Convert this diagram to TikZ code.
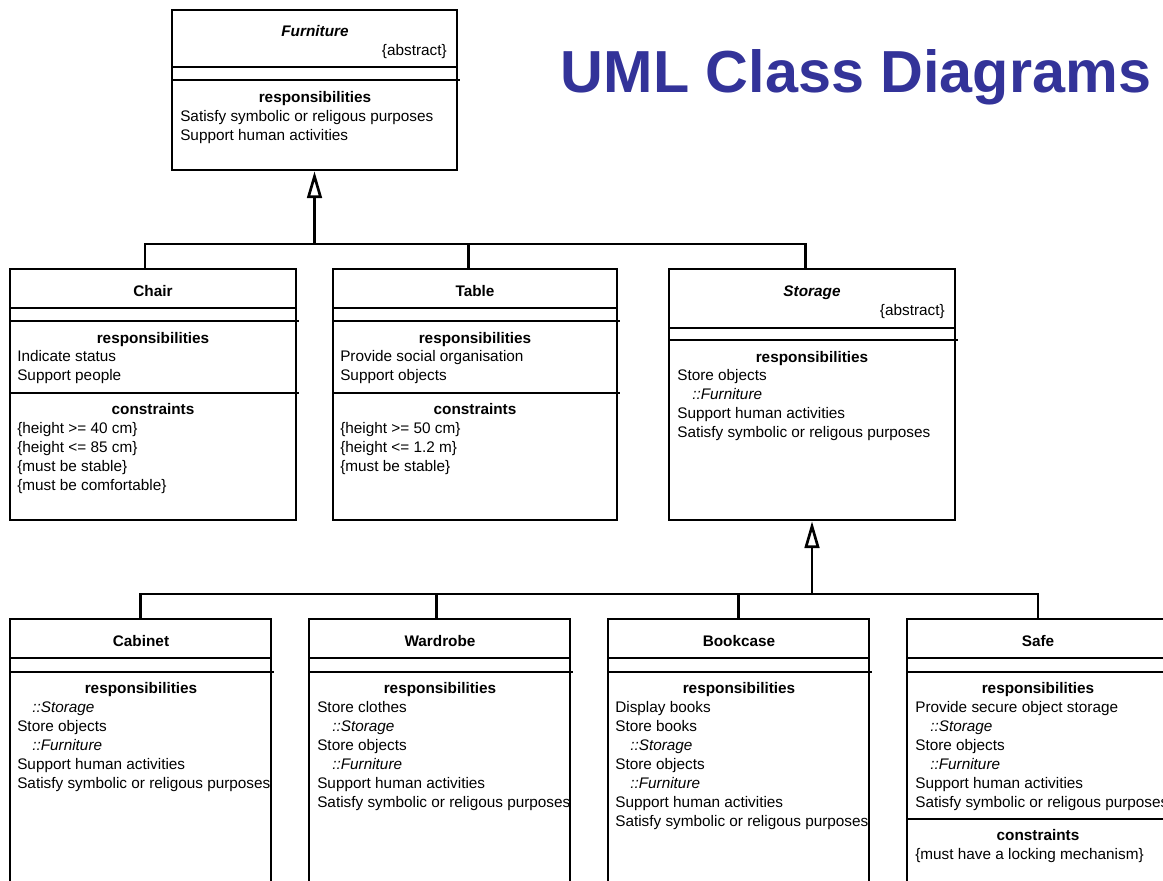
\documentclass[tikz,border=0pt]{standalone}
\usepackage{fontspec}
\setmainfont{Liberation Sans}
\usetikzlibrary{arrows.meta,fit}

\definecolor{umlblue}{HTML}{333399}

\newcommand{\umlsize}{\fontsize{11.5}{14}\selectfont}
% inherited responsibility, indented
\newcommand{\inh}[1]{\hspace*{11.25pt}\textit{#1}}
% compartment lines: prefix, x, first y, {line, line, ...}
\newcommand{\complines}[4]{%
  \foreach \txt [count=\k] in {#4}
    \node[item] (#1-\k) at (#2,{#3+18.9*(\k-1)}) {\txt};}

\begin{document}
\begin{tikzpicture}[x=0.75pt,y=-0.75pt,font=\umlsize,
    box/.style={draw, line width=2pt, inner sep=0pt},
    sep/.style={line width=2pt},
    item/.style={anchor=west, inner sep=0pt, text height=7.5pt, text depth=2pt, yshift=-1.5pt},
    head/.style={item, anchor=center, font=\umlsize\bfseries},
    link/.style={line width=2pt},
    gen/.style={link, -{Triangle[open, length=20pt, width=11pt]}}]

    \useasboundingbox (0,0) rectangle (1163,881);
    \clip (0,0) rectangle (1163,881);

    \node[anchor=base, text=umlblue, font=\fontsize{44.5}{50}\selectfont\bfseries] (title) at (856,93) {UML Class Diagrams};

    %Furniture
    \node[box, fit={(172,10) (457,170)}] (furniture) {};
    \node[head, font=\umlsize\bfseries\itshape] (furniture-name) at (315,31) {Furniture};
    \node[item, anchor=east] (furniture-abs) at (447,50) {\{abstract\}};
    \draw[sep] (172,67) -- (457,67);
    \draw[sep] (172,80) -- (460,80);
    \node[head] (furniture-res) at (315,97) {responsibilities};
    \complines{furniture-r}{180}{116}{Satisfy symbolic or religous purposes, Support human activities}

    %Chair
    \node[box, fit={(10,269) (296,520)}] (chair) {};
    \node[head] (chair-name) at (153,291) {Chair};
    \draw[sep] (10,308) -- (296,308);
    \draw[sep] (10,321) -- (299,321);
    \node[head] (chair-res) at (153,338) {responsibilities};
    \complines{chair-r}{17}{356}{Indicate status, Support people}
    \draw[sep] (10,393) -- (299,393);
    \node[head] (chair-con) at (153,409) {constraints};
    \complines{chair-c}{17}{428}{\{height >= 40 cm\}, \{height <= 85 cm\}, \{must be stable\}, \{must be comfortable\}}

    %Table
    \node[box, fit={(333,269) (617,520)}] (table) {};
    \node[head] (table-name) at (475,291) {Table};
    \draw[sep] (333,308) -- (617,308);
    \draw[sep] (333,321) -- (620,321);
    \node[head] (table-res) at (475,338) {responsibilities};
    \complines{table-r}{340}{356}{Provide social organisation, Support objects}
    \draw[sep] (333,393) -- (620,393);
    \node[head] (table-con) at (475,409) {constraints};
    \complines{table-c}{340}{428}{\{height >= 50 cm\}, \{height <= 1.2 m\}, \{must be stable\}}

    %Storage
    \node[box, fit={(669,269) (955,520)}] (storage) {};
    \node[head, font=\umlsize\bfseries\itshape] (storage-name) at (812,291) {Storage};
    \node[item, anchor=east] (storage-abs) at (945,310) {\{abstract\}};
    \draw[sep] (669,328) -- (955,328);
    \draw[sep] (669,340) -- (958,340);
    \node[head] (storage-res) at (812,357) {responsibilities};
    \complines{storage-r}{677}{375}{Store objects, {\inh{::Furniture}}, Support human activities, Satisfy symbolic or religous purposes}

    %Cabinet
    \node[box, fit={(10,619) (271,900)}] (cabinet) {};
    \node[head] (cabinet-name) at (141,641) {Cabinet};
    \draw[sep] (10,658) -- (271,658);
    \draw[sep] (10,672) -- (274,672);
    \node[head] (cabinet-res) at (141,688) {responsibilities};
    \complines{cabinet-r}{17}{707}{{\inh{::Storage}}, Store objects, {\inh{::Furniture}}, Support human activities, Satisfy symbolic or religous purposes}

    %Wardrobe
    \node[box, fit={(309,619) (570,900)}] (wardrobe) {};
    \node[head] (wardrobe-name) at (440,641) {Wardrobe};
    \draw[sep] (309,658) -- (570,658);
    \draw[sep] (309,672) -- (573,672);
    \node[head] (wardrobe-res) at (440,688) {responsibilities};
    \complines{wardrobe-r}{317}{707}{Store clothes, {\inh{::Storage}}, Store objects, {\inh{::Furniture}}, Support human activities, Satisfy symbolic or religous purposes}

    %Bookcase
    \node[box, fit={(608,619) (869,900)}] (bookcase) {};
    \node[head] (bookcase-name) at (739,641) {Bookcase};
    \draw[sep] (608,658) -- (869,658);
    \draw[sep] (608,672) -- (872,672);
    \node[head] (bookcase-res) at (739,688) {responsibilities};
    \complines{bookcase-r}{615}{707}{Display books, Store books, {\inh{::Storage}}, Store objects, {\inh{::Furniture}}, Support human activities, Satisfy symbolic or religous purposes}

    %Safe
    \node[box, fit={(907,619) (1169,900)}] (safe) {};
    \node[head] (safe-name) at (1038,641) {Safe};
    \draw[sep] (907,658) -- (1169,658);
    \draw[sep] (907,672) -- (1169,672);
    \node[head] (safe-res) at (1038,688) {responsibilities};
    \complines{safe-r}{915}{707}{Provide secure object storage, {\inh{::Storage}}, Store objects, {\inh{::Furniture}}, Support human activities, Satisfy symbolic or religous purposes}
    \draw[sep] (907,819) -- (1169,819);
    \node[head] (safe-con) at (1038,835) {constraints};
    \complines{safe-c}{915}{854}{\{must have a locking mechanism\}}

    %generalisations
    \coordinate (bus-top) at (furniture.south |- 0,244);
    \draw[link] ([xshift=-6pt]chair.north) |- (bus-top);
    \draw[link] ([xshift=-5pt]table.north) |- (bus-top);
    \draw[link] ([xshift=-5pt]storage.north) |- (bus-top);
    \draw[gen] (bus-top) -- (furniture.south);

    \coordinate (bus-low) at (storage.south |- 0,594);
    \draw[link] (cabinet.north) |- (bus-low);
    \draw[link] ([xshift=-2.5pt]wardrobe.north) |- (bus-low);
    \draw[link] (bookcase.north) |- (bus-low);
    \draw[link] (safe.north) |- (bus-low);
    \draw[gen] (bus-low) -- (storage.south);

\end{tikzpicture}
\end{document}
